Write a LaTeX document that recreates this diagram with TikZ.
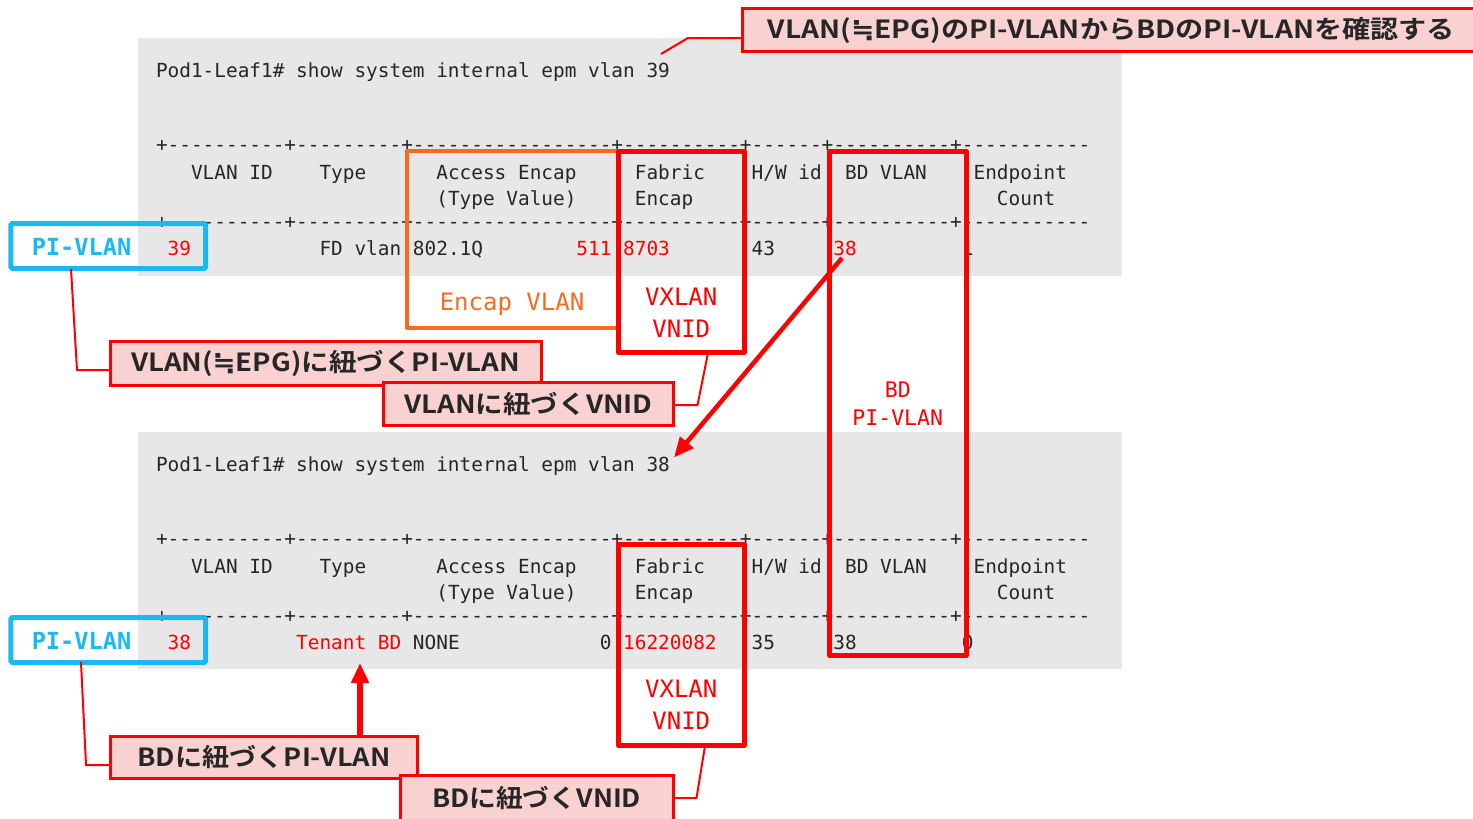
\documentclass[tikz,border=0pt]{standalone}
\usepackage{fontspec}
\usepackage{graphicx}
\setmonofont{DejaVu Sans Mono}
\newfontfamily\jp{Noto Sans CJK JP}[BoldFont={Noto Sans CJK JP Bold}]
\newfontfamily\symf{DejaVu Sans}
\usetikzlibrary{arrows.meta}

\definecolor{panelgray}{RGB}{231,231,231}
\definecolor{alertred}{RGB}{255,0,0}
\definecolor{skyblue}{RGB}{28,184,242}
\definecolor{encorange}{RGB}{250,106,30}
\definecolor{calloutpink}{RGB}{249,209,209}
\definecolor{ink}{RGB}{38,38,38}

% monospaced text at a given size in px
\newcommand\mono[1]{\ttfamily\fontsize{#1}{#1}\selectfont}
% squeeze a box horizontally to a given width
\newcommand\fitw[2]{\resizebox{#1}{\height}{#2}}
% approximately-equal sign taken from DejaVu Sans
\newcommand\approxeq{{\symf\bfseries ≒}}
% one table token: [style] name column baseline text
\newcommand\tk[5][]{\node[tok,#1] (#2) at ({156+11.68*#3},#4) {#5};}
\newcommand\dashrow{+----------+---------+-----------------+----------+------+----------+-----------}

\begin{document}
\begin{tikzpicture}[x=1pt,y=-1pt,
  tok/.style={anchor=base west,inner sep=0pt,outer sep=0pt,font=\mono{19.4},text=ink},
  hot/.style={text=alertred},
  panel/.style={fill=panelgray,draw=none},
  redbox/.style={draw=alertred,line width=5pt,inner sep=0pt,outer sep=0pt,line join=round},
  orangebox/.style={draw=encorange,line width=4pt,inner sep=0pt,outer sep=0pt,line join=round},
  bluebox/.style={draw=skyblue,line width=5pt,inner sep=0pt,outer sep=0pt,rounded corners=1.5pt},
  boxlabel/.style={anchor=base,inner sep=0pt,outer sep=0pt},
  callout/.style={draw=alertred,fill=calloutpink,line width=3pt,inner sep=0pt,outer sep=0pt,
    text=ink,font=\jp\bfseries\fontsize{25}{25}\selectfont},
  leader/.style={draw=alertred,line width=2pt},
  bigarrow/.style={draw=alertred,line width=4.5pt,-{Triangle[length=20pt,width=17pt]}},
]
\useasboundingbox (0,0) rectangle (1473,819);

% ---------- command output panels ----------
\fill[panel] (138,38) rectangle (1122,276);
\fill[panel] (138,432) rectangle (1122,669);

% ---------- first output: vlan 39 ----------
\tk{cmdA}{0}{77}{Pod1-Leaf1\# show system internal epm vlan 39}
\tk{dashAa}{0}{151}{\dashrow}
\tk{hAvlan}{3}{179}{VLAN ID}
\tk{hAtype}{14}{179}{Type}
\tk{hAacc}{24}{179}{Access Encap}
\tk{hAfab}{41}{179}{Fabric}
\tk{hAhw}{51}{179}{H/W id}
\tk{hAbd}{59}{179}{BD VLAN}
\tk{hAep}{70}{179}{Endpoint}
\tk{hAtv}{24}{205}{(Type Value)}
\tk{hAenc}{41}{205}{Encap}
\tk{hAcnt}{72}{205}{Count}
\tk{dashAb}{0}{228}{\dashrow}
\tk[hot]{rAid}{1}{255}{39}
\tk{rAtype}{14}{255}{FD vlan}
\tk{rAacc}{22}{255}{802.1Q}
\tk[hot]{rAval}{36}{255}{511}
\tk[hot]{rAfab}{40}{255}{8703}
\tk{rAhw}{51}{255}{43}
\tk[hot]{rAbd}{58}{255}{38}
\tk{rAep}{69}{255}{1}

% ---------- second output: vlan 38 ----------
\tk{cmdB}{0}{471}{Pod1-Leaf1\# show system internal epm vlan 38}
\tk{dashBa}{0}{545}{\dashrow}
\tk{hBvlan}{3}{573}{VLAN ID}
\tk{hBtype}{14}{573}{Type}
\tk{hBacc}{24}{573}{Access Encap}
\tk{hBfab}{41}{573}{Fabric}
\tk{hBhw}{51}{573}{H/W id}
\tk{hBbd}{59}{573}{BD VLAN}
\tk{hBep}{70}{573}{Endpoint}
\tk{hBtv}{24}{599}{(Type Value)}
\tk{hBenc}{41}{599}{Encap}
\tk{hBcnt}{72}{599}{Count}
\tk{dashBb}{0}{622}{\dashrow}
\tk[hot]{rBid}{1}{649}{38}
\tk[hot]{rBtype}{12}{649}{Tenant BD}
\tk{rBacc}{22}{649}{NONE}
\tk{rBval}{38}{649}{0}
\tk[hot]{rBfab}{40}{649}{16220082}
\tk{rBhw}{51}{649}{35}
\tk{rBbd}{58}{649}{38}
\tk{rBep}{69}{649}{0}

% ---------- highlight frames ----------
\node[orangebox,minimum width=212pt,minimum height=176.5pt] (accA) at (512.5,239.25) {};
\node[redbox,minimum width=125.5pt,minimum height=201.5pt] (fabA) at (681.25,251.75) {};
\node[redbox,minimum width=125.5pt,minimum height=201.5pt] (fabB) at (681.25,644.75) {};
\node[redbox,minimum width=136.5pt,minimum height=504.5pt] (bdcol) at (897.75,403.25) {};
\node[bluebox,minimum width=194.7pt,minimum height=45pt] (piA) at (108.15,246) {};
\node[bluebox,minimum width=194.7pt,minimum height=45pt] (piB) at (108.15,640) {};

% ---------- frame labels ----------
\node[boxlabel,font=\mono{23.6}\bfseries,text=skyblue] (piAtxt) at (81.5,255) {PI-VLAN};
\node[boxlabel,font=\mono{23.6}\bfseries,text=skyblue] (piBtxt) at (81.5,649) {PI-VLAN};
\node[boxlabel,font=\mono{24},text=encorange] (enclbl) at (512,310.7) {Encap VLAN};
\node[boxlabel,font=\mono{24},text=alertred] (vxA1) at (681.25,305.5) {VXLAN};
\node[boxlabel,font=\mono{24},text=alertred] (vxA2) at (681.25,337.8) {VNID};
\node[boxlabel,font=\mono{24},text=alertred] (vxB1) at (681.25,697.8) {VXLAN};
\node[boxlabel,font=\mono{24},text=alertred] (vxB2) at (681.25,729.8) {VNID};
\node[boxlabel,font=\mono{21.5},text=alertred] (bdl1) at (897.75,397.8) {BD};
\node[boxlabel,font=\mono{21.5},text=alertred] (bdl2) at (897.75,425.5) {PI-VLAN};

% ---------- callouts ----------
\node[callout,minimum width=737.5pt,minimum height=43pt] (title) at (1111.25,30.3)
  {\fitw{687pt}{VLAN(\approxeq EPG)のPI-VLANからBDのPI-VLANを確認する}};
\coordinate (tl0) at (661,54);
\coordinate (tl1) at (688,38);
\draw[leader] (tl0) -- (tl1) -- (tl1 -| title.west);

\coordinate (la1) at (71,269);
\coordinate (la2) at (77,370);
\coordinate (lb1) at (708,353);
\coordinate (lb2) at (697.5,405);
\coordinate (lc1) at (81,662);
\coordinate (lc2) at (86,765);
\coordinate (ld1) at (705,746);
\coordinate (ld2) at (696.5,798);

\node[callout,minimum width=431.2pt,minimum height=43.7pt] (epgpi) at (325.6,363.35)
  {\fitw{389pt}{VLAN(\approxeq EPG)に紐づくPI-VLAN}};
\draw[leader] (la1) -- (la2) -- (la2 -| epgpi.west);

\draw[leader] (lb1) -- (lb2) -- (lb2 -| 673.5,0);
\node[callout,minimum width=290pt,minimum height=42.7pt] (vlanvnid) at (528.5,403.85)
  {\fitw{248pt}{VLANに紐づくVNID}};

\node[callout,minimum width=307pt,minimum height=42pt] (bdpi) at (264,757.5)
  {\fitw{253pt}{BDに紐づくPI-VLAN}};
\draw[leader] (lc1) -- (lc2) -- (lc2 -| bdpi.west);

\draw[leader] (ld1) -- (ld2) -- (ld2 -| 673.2,0);
\node[callout,minimum width=273.2pt,minimum height=45pt] (bdvnid) at (536.6,798)
  {\fitw{209pt}{BDに紐づくVNID}};

% ---------- arrows ----------
\coordinate (dstart) at (842,258);
\coordinate (dend) at (674,457.5);
\draw[bigarrow] (dstart) -- (dend);

\coordinate (tipv) at (360,663);
\draw[bigarrow,line width=5.5pt] (tipv |- bdpi.north) -- (tipv);
\end{tikzpicture}
\end{document}
